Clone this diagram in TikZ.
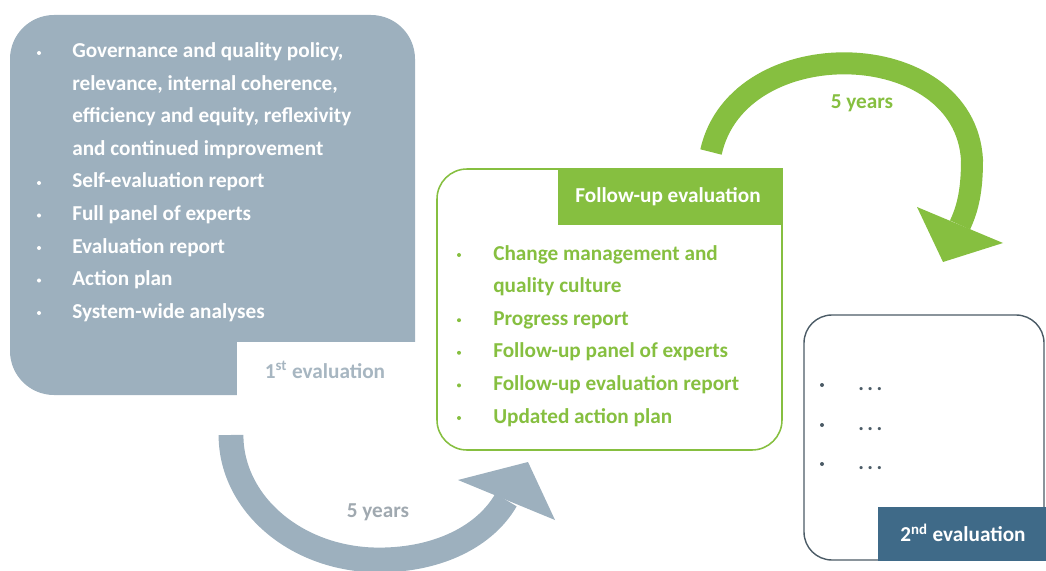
\documentclass[tikz,border=0pt]{standalone}
\usepackage{fontspec}
\setmainfont{Carlito}
\usetikzlibrary{positioning}

\definecolor{slate}{HTML}{9DB0BE}
\definecolor{slatetext}{HTML}{A7B6C1}
\definecolor{yeargrey}{HTML}{A0A9B0}
\definecolor{lime}{HTML}{86BF40}
\definecolor{navy}{HTML}{3F6A88}
\definecolor{inkgrey}{HTML}{4B5B66}

\tikzset{
  listline/.style={anchor=base west, inner sep=0pt, font=\bfseries\fontsize{15.1}{18}\selectfont},
  bulletdot/.style={circle, fill, inner sep=0pt, minimum size=0.1cm},
  tag/.style={inner sep=0pt, font=\bfseries\fontsize{15.1}{18}\selectfont}
}

\begin{document}
\begin{tikzpicture}[x=0.025cm, y=-0.025cm]
    \useasboundingbox (0,0) rectangle (1046,571);
    % 1st evaluation
    \fill[slate, rounded corners=1.1cm] (10,15) rectangle (415,395);
    \fill[white] (237,342) rectangle (420,400);
    \node[tag, slatetext] (first) at (325,370) {1\textsuperscript{st} evaluation};
    \foreach \b/\txt [count=\i] in {1/{Governance and quality policy,}, 0/{relevance, internal coherence,},
        0/{efficiency and equity, reflexivity}, 0/{and continued improvement}, 1/{Self-evaluation report},
        1/{Full panel of experts}, 1/{Evaluation report}, 1/{Action plan}, 1/{System-wide analyses}} {
      \node[listline, white] (a\i) at (72, {58+32.5*(\i-1)}) {\txt};
      \ifnum\b=1 \node[bulletdot, white] (ab\i) at (39, {53+32.5*(\i-1)}) {}; \fi
    }
    % grey arrow, 5 years
    \draw[slate, line width=0.62cm] (231,435) .. controls (231,504) and (297,560) .. (379,560)
        .. controls (440,560) and (486,535) .. (506,500);
    \fill[slate] (458,480) -- (528,462) -- (555,520) -- cycle;
    \node[tag, yeargrey] (y1) at (378,512) {5 years};
    % follow-up evaluation
    \draw[lime, line width=1.1pt, rounded corners=0.75cm] (437,169) rectangle (782,450);
    \fill[lime] (558,168.5) rectangle (782.6,225);
    \node[tag, white] (fu) at (668,197) {Follow-up evaluation};
    \foreach \b/\txt [count=\i] in {1/{Change management and}, 0/{quality culture}, 1/{Progress report},
        1/{Follow-up panel of experts}, 1/{Follow-up evaluation report}, 1/{Updated action plan}} {
      \node[listline, lime] (f\i) at (493, {260+32.6*(\i-1)}) {\txt};
      \ifnum\b=1 \node[bulletdot, lime] (fb\i) at (459, {255+32.6*(\i-1)}) {}; \fi
    }
    % green arrow, 5 years
    \draw[lime, line width=0.55cm] (711,152) .. controls (738,30) and (965,35) .. (972,160)
        .. controls (972,190) and (968,208) .. (960,225);
    \fill[lime] (917,207) -- (1003,243) -- (943,262) -- cycle;
    \node[tag, lime] (y2) at (862,103) {5 years};
    % 2nd evaluation
    \draw[inkgrey, line width=1pt, rounded corners=0.7cm] (804,315) rectangle (1044,560);
    \fill[navy] (878,507) rectangle (1046,561);
    \node[tag, white] (second) at (963,533) {2\textsuperscript{nd} evaluation};
    \foreach \y [count=\i] in {385,425,464} {
      \node[bulletdot, inkgrey] (sb\i) at (822,\y) {};
      \node[listline, inkgrey] (s\i) at (858,{\y+5}) {.\,.\,.};
    }
\end{tikzpicture}
\end{document}
